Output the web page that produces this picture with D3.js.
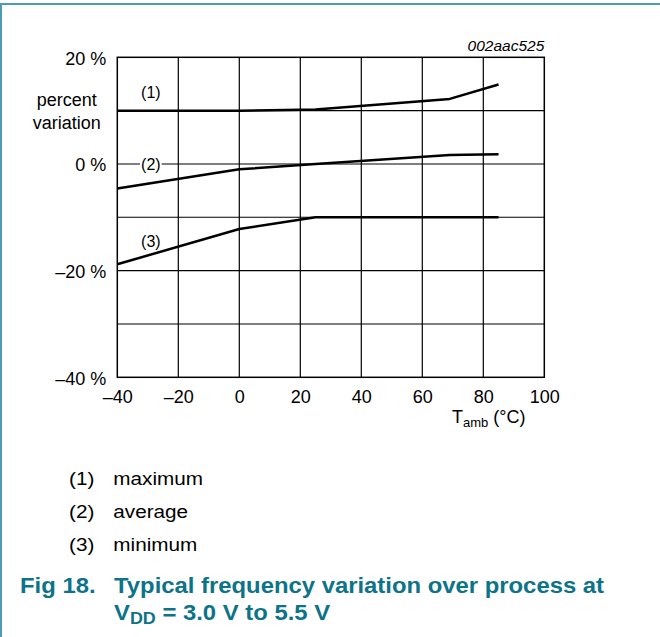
<!DOCTYPE html>
<html>
<head>
<meta charset="utf-8">
<script src="https://cdn.jsdelivr.net/npm/d3@7"></script>
<style>
  html, body { margin: 0; padding: 0; background: #fff; }
  svg { display: block; font-family: "Liberation Sans", Arial, Helvetica, sans-serif; }
</style>
</head>
<body>
<svg id="chart" width="660" height="637"></svg>
<script>
// ---- data ----
const xTicks = [-40, -20, 0, 20, 40, 60, 80, 100];
const yTicks = [20, 0, -20, -40];
const yGrid = [20, 10, 0, -10, -20, -30, -40];

const maxTemp = [-40, 0, 25, 69, 85];
const maxVar  = [10, 10, 10.2, 12.2, 14.9];
const avgTemp = [-40, 0, 25, 69, 85];
const avgVar  = [-4.6, -1.0, 0, 1.7, 1.8];
const minTemp = [-40, 0, 25, 85];
const minVar  = [-18.8, -12.2, -10, -10];

const curveLabels = ["(1)", "(2)", "(3)"];
const labelPos = [[-29, 13.5], [-29, 0], [-29, -14.6]]; // data-space anchors
const legendKeys = ["(1)", "(2)", "(3)"];
const legendNames = ["maximum", "average", "minimum"];

// ---- setup ----
const svg = d3.select("#chart");
const teal = "#0d7389";
const frame = "#4a9db3";

svg.append("line").attr("x1", 0).attr("x2", 660).attr("y1", 4).attr("y2", 4)
  .attr("stroke", frame).attr("stroke-width", 2);
svg.append("line").attr("x1", 1).attr("x2", 1).attr("y1", 3).attr("y2", 637)
  .attr("stroke", frame).attr("stroke-width", 2);

const x = d3.scaleLinear().domain([-40, 100]).range([117.3, 544.3]);
const y = d3.scaleLinear().domain([-40, 20]).range([377.3, 57.3]);

const fmt = v => (v < 0 ? "\u2013" + Math.abs(v) : String(v));

// grid
const g = svg.append("g");
g.selectAll("line.v").data(xTicks.slice(1, -1)).join("line")
  .attr("x1", d => x(d)).attr("x2", d => x(d))
  .attr("y1", y(20)).attr("y2", y(-40))
  .attr("stroke", "#000").attr("stroke-width", 1.2);
g.selectAll("line.h").data(yGrid.slice(1, -1)).join("line")
  .attr("x1", x(-40)).attr("x2", x(100))
  .attr("y1", d => y(d)).attr("y2", d => y(d))
  .attr("stroke", "#000").attr("stroke-width", 1.1);
g.append("rect")
  .attr("x", x(-40)).attr("y", y(20))
  .attr("width", x(100) - x(-40)).attr("height", y(-40) - y(20))
  .attr("fill", "none").attr("stroke", "#000").attr("stroke-width", 1.5);

// axes
const yAxis = svg.append("g").attr("transform", `translate(${x(-40)},0)`)
  .call(d3.axisLeft(y).tickValues(yTicks).tickSize(0).tickPadding(11)
    .tickFormat(d => fmt(d) + " %"));
yAxis.select(".domain").remove();
yAxis.selectAll("text").attr("font-size", 18).attr("fill", "#000")
  .attr("font-family", "Liberation Sans, Arial, sans-serif").attr("dy", "0.38em");

const xAxis = svg.append("g").attr("transform", `translate(0,${y(-40)})`)
  .call(d3.axisBottom(x).tickValues(xTicks).tickSize(0).tickPadding(13)
    .tickFormat(fmt));
xAxis.select(".domain").remove();
xAxis.selectAll("text").attr("font-size", 18).attr("fill", "#000")
  .attr("font-family", "Liberation Sans, Arial, sans-serif");

// axis titles
svg.append("text").attr("x", 66.7).attr("y", 106).attr("text-anchor", "middle")
  .attr("font-size", 18).text("percent");
svg.append("text").attr("x", 66.7).attr("y", 128.5).attr("text-anchor", "middle")
  .attr("font-size", 18).text("variation");

const tl = svg.append("text").attr("x", 452).attr("y", 423).attr("font-size", 18);
tl.append("tspan").text("T");
tl.append("tspan").attr("font-size", 13).attr("dy", 4).text("amb");
tl.append("tspan").attr("dy", -4).text(" (\u00B0C)");

svg.append("text").attr("x", 544.3).attr("y", 51).attr("text-anchor", "end")
  .attr("font-size", 15.5).attr("font-style", "italic").text("002aac525");

// curves
const line = d3.line().x(d => x(d[0])).y(d => y(d[1]));
const series = [
  d3.zip(maxTemp, maxVar),
  d3.zip(avgTemp, avgVar),
  d3.zip(minTemp, minVar)
];

// curve labels (with white background for label 2)
curveLabels.forEach((t, i) => {
  const [lx, ly] = labelPos[i];
  const txt = svg.append("text").attr("x", x(lx)).attr("y", y(ly))
    .attr("text-anchor", "middle").attr("dy", "0.35em")
    .attr("font-size", 16).text(t);
  if (i === 1) {
    const bb = txt.node().getBBox();
    svg.insert("rect", () => txt.node())
      .attr("x", bb.x - 1).attr("y", bb.y + 2)
      .attr("width", bb.width + 2).attr("height", bb.height - 4)
      .attr("fill", "#fff");
  }
});

svg.selectAll("path.curve").data(series).join("path")
  .attr("class", "curve")
  .attr("d", line)
  .attr("fill", "none").attr("stroke", "#000").attr("stroke-width", 2.5)
  .attr("stroke-linejoin", "round");

// legend
const legendY = [485, 517.5, 550.5];
legendKeys.forEach((k, i) => {
  svg.append("text").attr("transform", `translate(69,${legendY[i]}) scale(1.12,1)`)
    .attr("font-size", 18.5).text(k);
  svg.append("text").attr("transform", `translate(113.3,${legendY[i]}) scale(1.12,1)`)
    .attr("font-size", 18.5).text(legendNames[i]);
});

// caption
svg.append("text").attr("transform", "translate(20,592.7) scale(1.12,1)")
  .attr("font-size", 21.3).attr("font-weight", "bold").attr("fill", teal).text("Fig 18.");
svg.append("text").attr("transform", "translate(114,592.7) scale(1.12,1)")
  .attr("font-size", 21.3).attr("font-weight", "bold").attr("fill", teal)
  .text("Typical frequency variation over process at");
const cap2 = svg.append("text").attr("transform", "translate(114,620) scale(1.12,1)")
  .attr("font-size", 21.3).attr("font-weight", "bold").attr("fill", teal);
cap2.append("tspan").text("V");
cap2.append("tspan").attr("font-size", 16).attr("dy", 4).text("DD");
cap2.append("tspan").attr("dy", -4).text(" = 3.0 V to 5.5 V");
</script>
</body>
</html>
